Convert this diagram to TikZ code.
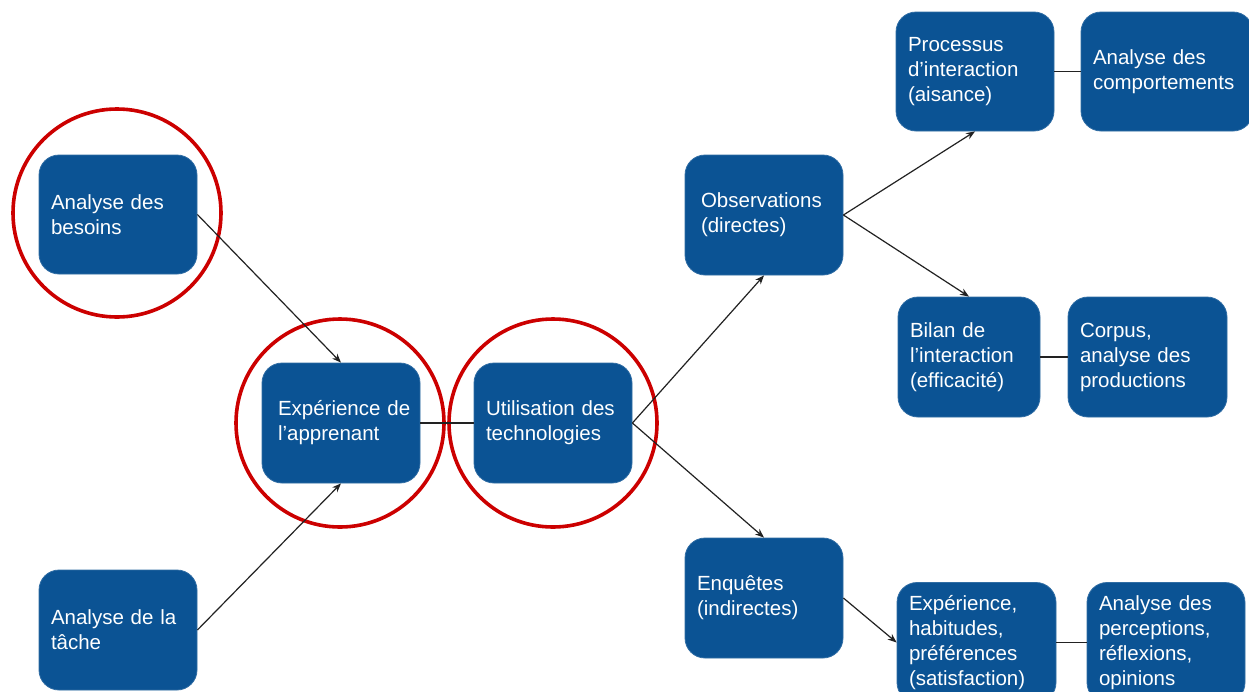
\documentclass[tikz,border=0pt]{standalone}
\usepackage{fontspec}
\setmainfont{Liberation Sans}
\usetikzlibrary{arrows.meta}
\definecolor{boxblue}{HTML}{0B5394}
\definecolor{ringred}{HTML}{CC0000}
\definecolor{linkgray}{HTML}{222222}
\tikzset{
  bluebox/.style={rectangle, rounded corners=20pt, fill=boxblue, draw=boxblue!85!white, line width=0.8pt,
    text=white, align=left, inner xsep=12pt, inner ysep=0pt,
    font=\fontsize{20.5}{25}\selectfont},
  ring/.style={draw=ringred, line width=3.6pt},
  arrowlink/.style={draw=linkgray, line width=1.2pt, -{Stealth[length=9pt,width=7pt]}},
  plainlink/.style={draw=linkgray, line width=1.4pt}
}
\newcommand{\bx}[6]{% name, cx, cy, w, h, text
  \node[bluebox, minimum width=#4pt, minimum height=#5pt, text width={#4pt-24pt}] (#1) at (#2,#3) {#6};}
\begin{document}
\begin{tikzpicture}[x=1pt,y=-1pt]
\clip (0,0) rectangle (1249,691);
\fill[white] (0,0) rectangle (1249,691);
% boxes
\bx{besoins}{118}{214.5}{158}{119}{Analyse des\\besoins}
\bx{tache}{118}{630}{158}{120}{Analyse de la\\tâche}
\bx{exp}{341}{423}{158}{120}{\mbox{\hspace*{4pt}Expérience de}\\\mbox{\hspace*{4pt}l’apprenant}}
\bx{util}{553}{423}{158}{120}{\mbox{Utilisation des}\\technologies}
\bx{obs}{764}{215}{158}{120}{\mbox{\hspace*{4pt}Observations}\\\mbox{\hspace*{4pt}(directes)}}
\bx{enq}{764}{598}{158}{120}{Enquêtes\\(indirectes)}
\bx{proc}{975}{71.5}{158}{119}{Processus\\d’interaction\\(aisance)}
\bx{comp}{1167}{71.5}{172}{119}{Analyse des\\comportements}
\bx{bilan}{969}{357}{142}{120}{Bilan de\\l’interaction\\(efficacité)}
\bx{corpus}{1147.5}{357}{159}{120}{Corpus,\\analyse des\\productions}
\bx{expb}{976.5}{642.5}{159}{120}{Expérience,\\habitudes,\\préférences\\(satisfaction)}
\bx{perc}{1166}{642.5}{158}{120}{Analyse des\\perceptions,\\réflexions,\\opinions}
% rings
\draw[ring] (117,213) circle[radius=104];
\draw[ring] (340,423) circle[radius=104];
\draw[ring] (553,423) circle[radius=104];
% connectors
\draw[arrowlink] (besoins.east) -- (exp.north);
\draw[arrowlink] (tache.east) -- (exp.south);
\draw[plainlink] (exp.east) -- (util.west);
\draw[arrowlink] (util.east) -- (obs.south);
\draw[arrowlink] (util.east) -- (enq.north);
\draw[arrowlink] (obs.east) -- (proc.south);
\draw[arrowlink] (obs.east) -- (bilan.north);
\draw[plainlink] (proc.east) -- (comp.west);
\draw[plainlink] (bilan.east) -- (corpus.west);
\draw[arrowlink] (enq.east) -- (expb.west);
\draw[plainlink] (expb.east) -- (perc.west);
\end{tikzpicture}
\end{document}
